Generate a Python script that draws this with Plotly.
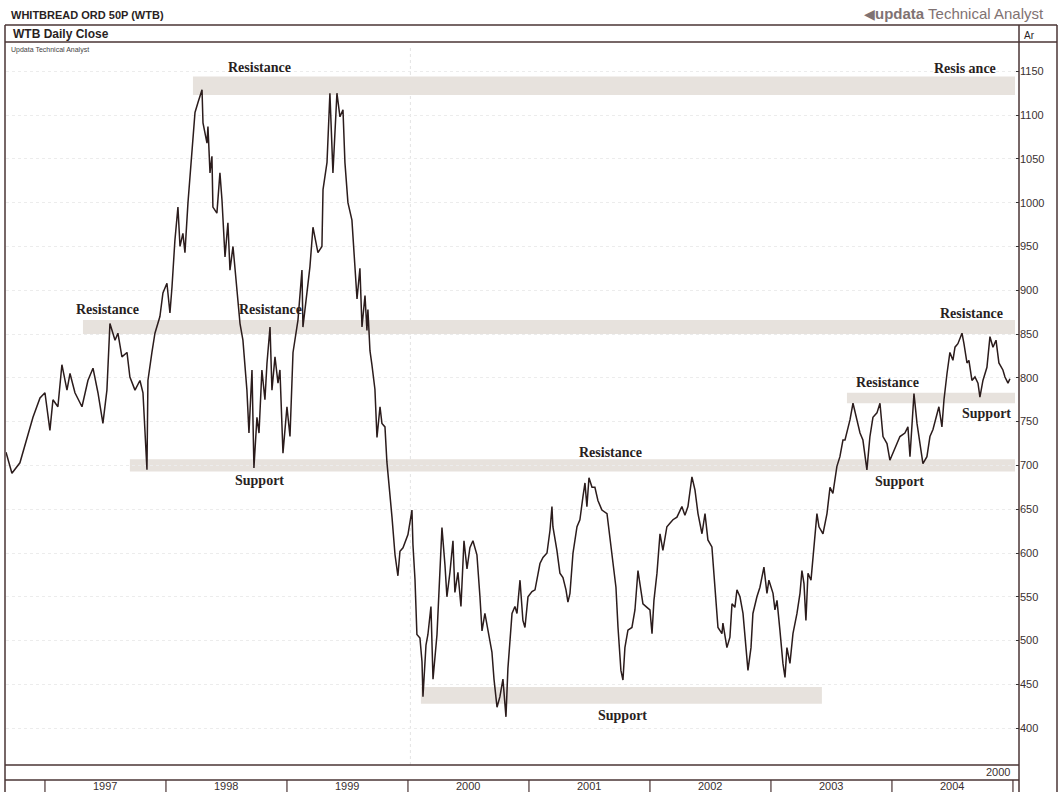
import plotly.graph_objects as go

# ---------------- data ----------------
years = [
    1996.678, 1996.727, 1996.793, 1996.860, 1996.901, 1996.959, 1997.000, 1997.041, 1997.066, 1997.107,
    1997.140, 1997.182, 1997.207, 1997.248, 1997.306, 1997.355, 1997.397, 1997.438, 1997.479, 1997.512,
    1997.537, 1997.579, 1997.603, 1997.636, 1997.678, 1997.702, 1997.744, 1997.785, 1997.810, 1997.843,
    1997.851, 1997.884, 1997.909, 1997.950, 1997.975, 1998.008, 1998.033, 1998.050, 1998.074, 1998.099,
    1998.116, 1998.140, 1998.157, 1998.182, 1998.215, 1998.240, 1998.264, 1998.298, 1998.306, 1998.339,
    1998.347, 1998.364, 1998.380, 1998.388, 1998.421, 1998.446, 1998.463, 1998.488, 1998.512, 1998.529,
    1998.554, 1998.587, 1998.612, 1998.636, 1998.669, 1998.686, 1998.711, 1998.727, 1998.752, 1998.769,
    1998.793, 1998.818, 1998.835, 1998.860, 1998.876, 1998.901, 1998.926, 1998.942, 1998.967, 1999.000,
    1999.025, 1999.050, 1999.091, 1999.124, 1999.132, 1999.165, 1999.190, 1999.215, 1999.256, 1999.289,
    1999.298, 1999.331, 1999.355, 1999.380, 1999.413, 1999.438, 1999.463, 1999.479, 1999.504, 1999.537,
    1999.562, 1999.579, 1999.603, 1999.620, 1999.645, 1999.661, 1999.669, 1999.686, 1999.702, 1999.727,
    1999.744, 1999.769, 1999.785, 1999.810, 1999.826, 1999.843, 1999.868, 1999.893, 1999.917, 1999.934,
    1999.959, 2000.000, 2000.033, 2000.041, 2000.058, 2000.074, 2000.099, 2000.116, 2000.124, 2000.149,
    2000.165, 2000.190, 2000.207, 2000.240, 2000.264, 2000.281, 2000.306, 2000.322, 2000.347, 2000.372,
    2000.388, 2000.413, 2000.438, 2000.463, 2000.488, 2000.512, 2000.537, 2000.570, 2000.595, 2000.612,
    2000.636, 2000.661, 2000.694, 2000.711, 2000.736, 2000.760, 2000.785, 2000.810, 2000.826, 2000.860,
    2000.884, 2000.901, 2000.926, 2000.950, 2000.967, 2000.992, 2001.025, 2001.050, 2001.091, 2001.116,
    2001.149, 2001.174, 2001.190, 2001.198, 2001.231, 2001.256, 2001.281, 2001.306, 2001.322, 2001.339,
    2001.364, 2001.397, 2001.421, 2001.446, 2001.463, 2001.479, 2001.496, 2001.521, 2001.545, 2001.570,
    2001.603, 2001.645, 2001.669, 2001.694, 2001.719, 2001.736, 2001.760, 2001.777, 2001.793, 2001.818,
    2001.851, 2001.876, 2001.901, 2001.917, 2001.942, 2001.975, 2002.000, 2002.017, 2002.033, 2002.058,
    2002.083, 2002.107, 2002.140, 2002.165, 2002.190, 2002.223, 2002.264, 2002.289, 2002.314, 2002.347,
    2002.372, 2002.397, 2002.430, 2002.455, 2002.479, 2002.512, 2002.537, 2002.562, 2002.595, 2002.603,
    2002.636, 2002.661, 2002.678, 2002.702, 2002.719, 2002.744, 2002.769, 2002.802, 2002.810, 2002.835,
    2002.851, 2002.884, 2002.909, 2002.942, 2002.967, 2002.983, 2003.017, 2003.033, 2003.050, 2003.074,
    2003.099, 2003.116, 2003.132, 2003.157, 2003.182, 2003.215, 2003.240, 2003.256, 2003.273, 2003.289,
    2003.306, 2003.331, 2003.347, 2003.380, 2003.397, 2003.430, 2003.463, 2003.488, 2003.512, 2003.545,
    2003.570, 2003.595, 2003.612, 2003.653, 2003.678, 2003.711, 2003.736, 2003.760, 2003.793, 2003.818,
    2003.843, 2003.876, 2003.901, 2003.926, 2003.959, 2003.983, 2004.008, 2004.041, 2004.066, 2004.107,
    2004.132, 2004.149, 2004.165, 2004.182, 2004.207, 2004.231, 2004.256, 2004.289, 2004.314, 2004.339,
    2004.372, 2004.388, 2004.413, 2004.430, 2004.455, 2004.479, 2004.504, 2004.521, 2004.545, 2004.579,
    2004.595, 2004.620, 2004.636, 2004.661, 2004.686, 2004.711, 2004.727, 2004.752, 2004.785, 2004.810,
    2004.835, 2004.860, 2004.884, 2004.917, 2004.934, 2004.959, 2004.975,
]
close = [
    715, 691, 703, 735, 755, 777, 783, 740, 775, 767,
    815, 786, 805, 783, 767, 797, 811, 783, 748, 786,
    862, 843, 851, 824, 829, 801, 786, 797, 783, 695,
    797, 829, 851, 870, 897, 908, 874, 904, 957, 995,
    950, 965, 943, 1000, 1061, 1103, 1114, 1129, 1091, 1068,
    1087, 1034, 1053, 995, 988, 1034, 1003, 938, 977, 923,
    950, 897, 862, 843, 786, 737, 809, 697, 755, 737,
    809, 775, 817, 858, 786, 824, 794, 809, 714, 767,
    733, 829, 866, 923, 858, 897, 927, 972, 943, 950,
    1015, 1046, 1125, 1034, 1125, 1098, 1106, 1046, 1000, 980,
    929, 890, 925, 858, 894, 854, 878, 831, 815, 787,
    732, 767, 748, 744, 704, 681, 641, 598, 574, 602,
    606, 621, 649, 610, 570, 507, 503, 476, 436, 495,
    507, 539, 456, 507, 578, 629, 586, 550, 578, 614,
    555, 578, 539, 614, 582, 606, 614, 598, 550, 511,
    531, 511, 487, 456, 424, 436, 456, 413, 468, 531,
    539, 531, 569, 523, 515, 550, 556, 558, 588, 595,
    600, 626, 653, 630, 603, 577, 572, 558, 544, 554,
    600, 630, 638, 664, 680, 653, 686, 675, 675, 660,
    649, 645, 618, 592, 561, 515, 466, 455, 492, 512,
    515, 535, 580, 565, 542, 538, 535, 508, 546, 577,
    622, 603, 630, 634, 638, 641, 653, 643, 653, 687,
    672, 645, 622, 645, 615, 607, 565, 515, 508, 520,
    492, 504, 542, 538, 558, 550, 531, 485, 466, 492,
    531, 550, 561, 584, 554, 569, 554, 535, 546, 512,
    474, 458, 492, 474, 508, 531, 554, 580, 565, 523,
    577, 569, 595, 645, 630, 622, 645, 675, 668, 699,
    710, 729, 729, 752, 771, 752, 737, 729, 695, 733,
    755, 760, 771, 733, 725, 706, 714, 725, 733, 737,
    744, 710, 752, 782, 748, 725, 702, 710, 733, 741,
    760, 767, 744, 775, 805, 829, 820, 835, 839, 851,
    839, 817, 820, 797, 801, 794, 778, 797, 812, 847,
    835, 843, 817, 809, 801, 794, 799,
]

price_ticks = [400, 450, 500, 550, 600, 650, 700, 750, 800, 850, 900, 950, 1000, 1050, 1100, 1150]
year_labels = ["1997", "1998", "1999", "2000", "2001", "2002", "2003", "2004"]
year_starts = [1997, 1998, 1999, 2000, 2001, 2002, 2003, 2004, 2005]

# support / resistance zones: (start year, end year, low price, high price)
zones = [
    (1998.223, 2005.017, 1123, 1144),
    (1997.314, 2005.017, 850, 866),
    (1997.702, 2005.017, 693, 707),
    (2003.628, 2005.017, 771, 783),
    (2000.107, 2003.421, 428, 447),
]
# zone labels: (text, year, price)
zone_labels = [
    ("Resistance", 1998.777, 1154),
    ("Resis ance", 2004.600, 1153),
    ("Resistance", 1997.520, 878),
    ("Resistance", 1998.860, 878),
    ("Support", 1998.777, 683),
    ("Resistance", 2001.678, 715),
    ("Support", 2001.777, 414),
    ("Resistance", 2003.967, 795),
    ("Support", 2004.066, 682),
    ("Resistance", 2004.661, 874),
    ("Support", 2004.785, 759),
]

# ---------------- layout helpers ----------------
W, H = 1060, 792
L, R, T, B = 6, 1019, 45, 765


def px(x):
    return (x - L) / (R - L)


def py(y):
    return (B - y) / (B - T)


FRAME = "#4a3434"
TXT = "#2a1f1f"

fig = go.Figure()
fig.add_trace(go.Scatter(
    x=years, y=close, mode="lines",
    line=dict(color="#2b1c1c", width=1.5),
    showlegend=False, hoverinfo="x+y",
))

shapes = []
for x0, x1, lo, hi in zones:
    shapes.append(dict(type="rect", xref="x", yref="y", x0=x0, x1=x1, y0=lo, y1=hi,
                       fillcolor="#e7e2dd", line=dict(width=0), layer="below"))
# faint vertical at 2000
shapes.append(dict(type="line", xref="x", yref="paper", x0=2000.02, x1=2000.02, y0=0, y1=1,
                   line=dict(color="#e3e3e3", width=1, dash="dot"), layer="below"))


def hline(y, x0=5, x1=1057, w=1.5):
    shapes.append(dict(type="line", xref="paper", yref="paper", x0=px(x0), x1=px(x1),
                       y0=py(y), y1=py(y), line=dict(color=FRAME, width=w)))


def vline(x, y0, y1, w=1.5):
    shapes.append(dict(type="line", xref="paper", yref="paper", x0=px(x), x1=px(x),
                       y0=py(y0), y1=py(y1), line=dict(color=FRAME, width=w)))


hline(25)
hline(42)
hline(765, 5, 1019)
hline(780, 5, 1019)
vline(5, 25, 792)
vline(1019, 25, 792)
vline(1057, 25, 792)
for ys in year_starts:
    shapes.append(dict(type="line", xref="x", yref="paper", x0=ys, x1=ys,
                       y0=py(780), y1=py(792), line=dict(color=FRAME, width=1.2)))

annotations = []
for text, xv, yv in zone_labels:
    annotations.append(dict(x=xv, y=yv, xref="x", yref="y", text="<b>" + text + "</b>",
                            showarrow=False,
                            font=dict(family="Liberation Serif", size=14, color=TXT),
                            xanchor="center", yanchor="middle"))

for i, lab in enumerate(year_labels):
    annotations.append(dict(x=year_starts[i] + 0.5, y=py(786), xref="x", yref="paper",
                            text=lab, showarrow=False, xanchor="center", yanchor="middle",
                            font=dict(family="Arial", size=11, color="#3a3030")))
annotations.append(dict(x=px(1012), y=py(772), xref="paper", yref="paper", text="2000",
                        showarrow=False, xanchor="right", yanchor="middle",
                        font=dict(family="Arial", size=11, color="#3a3030")))

annotations += [
    dict(x=px(9), y=py(15), xref="paper", yref="paper", text="<b>WHITBREAD ORD 50P (WTB)</b>",
         showarrow=False, xanchor="left", yanchor="middle",
         font=dict(family="Arial", size=11, color=TXT)),
    dict(x=px(11), y=py(34), xref="paper", yref="paper", text="<b>WTB Daily Close</b>",
         showarrow=False, xanchor="left", yanchor="middle",
         font=dict(family="Arial", size=12, color=TXT)),
    dict(x=px(9), y=py(50), xref="paper", yref="paper", text="Updata Technical Analyst",
         showarrow=False, xanchor="left", yanchor="middle",
         font=dict(family="Arial", size=7, color="#444")),
    dict(x=px(1046), y=py(14), xref="paper", yref="paper",
         text="<span style='font-size:14px'>◀</span><b>updata</b> Technical Analyst",
         showarrow=False, xanchor="right", yanchor="middle",
         font=dict(family="Arial", size=15, color="#7f7272")),
    dict(x=px(1022), y=py(35), xref="paper", yref="paper", text="Ar",
         showarrow=False, xanchor="left", yanchor="middle",
         font=dict(family="Arial", size=10, color=TXT)),
]

fig.update_layout(
    width=W, height=H,
    margin=dict(l=L, r=W - R, t=T, b=H - B),
    paper_bgcolor="white", plot_bgcolor="white",
    shapes=shapes, annotations=annotations,
    showlegend=False,
    xaxis=dict(range=[1996.678, 2005.05], showticklabels=False, ticks="",
               showgrid=False, zeroline=False, showline=False, fixedrange=True),
    yaxis=dict(range=[358, 1180], side="right", tickvals=price_ticks,
               ticktext=[str(v) for v in price_ticks], ticks="inside", ticklen=3,
               tickcolor="#333", tickfont=dict(family="Arial", size=11, color="#3a3030"),
               showgrid=True, gridcolor="#ececec", griddash="dot", gridwidth=1,
               zeroline=False, showline=False, fixedrange=True),
)

fig.write_html("out.html", config={"displayModeBar": False},
               post_script="document.body.style.margin='0';document.body.style.overflow='hidden';")
